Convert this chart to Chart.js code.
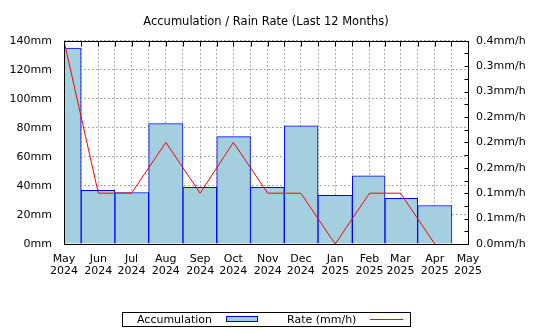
<!DOCTYPE html>
<html><head><meta charset="utf-8">
<script src="https://cdn.jsdelivr.net/npm/chart.js@4/dist/chart.umd.min.js"></script>
<style>
html,body{margin:0;padding:0;background:#fff;}
#wrap{position:relative;width:540px;height:330px;overflow:hidden;}
#c{position:absolute;left:0;top:0;}
#legend{position:absolute;left:122px;top:312px;width:287px;height:13px;border:1px solid #000;font:11px 'DejaVu Sans',sans-serif;color:#000;}
#legend span{position:absolute;white-space:nowrap;line-height:13px;top:0;}
#legend div{position:absolute;box-sizing:content-box;}
</style></head><body>
<div id="wrap"><canvas id="c" width="540" height="330"></canvas><div id="legend"></div></div>
<script>
// ---- data ----
const monthStarts = ['2024-05-01','2024-06-01','2024-07-01','2024-08-01','2024-09-01','2024-10-01','2024-11-01','2024-12-01','2025-01-01','2025-02-01','2025-03-01','2025-04-01','2025-05-01'];
const monthTickLabels = [['May','2024'],['Jun','2024'],['Jul','2024'],['Aug','2024'],['Sep','2024'],['Oct','2024'],['Nov','2024'],['Dec','2024'],['Jan','2025'],['Feb','2025'],['Mar','2025'],['Apr','2025'],['May','2025']];
const accumulationMm = [135, 37, 35.5, 83, 39, 74, 39, 81.5, 33.5, 47, 31.5, 26.5];
const rateMmH = [0.4, 0.1, 0.1, 0.2, 0.1, 0.2, 0.1, 0.1, 0.0, 0.1, 0.1, 0.0];
const mmTickValues = [0, 20, 40, 60, 80, 100, 120, 140];
const rateTickValues = [0, 0.05, 0.1, 0.15, 0.2, 0.25, 0.3, 0.35, 0.4];
const rateTickLabels = ['0.0','0.1','0.1','0.2','0.2','0.2','0.3','0.3','0.4'];
const rateMinorStep = 0.025;
const titleText = 'Accumulation / Rain Rate (Last 12 Months)';
const seriesLabels = ['Accumulation', 'Rate (mm/h)'];

// ---- helpers ----
const t0 = Date.parse(monthStarts[0] + 'T00:00:00Z');
const dayOf = s => (Date.parse(s + 'T00:00:00Z') - t0) / 86400000;
const monthDays = monthStarts.map(dayOf);
const gridDays = [];
monthDays.forEach((d, i) => {
  gridDays.push(d);
  if (i < monthDays.length - 1) gridDays.push((d + monthDays[i + 1]) / 2);
});
const labelByDay = {};
monthDays.forEach((d, i) => { labelByDay[d] = monthTickLabels[i]; });

const BAR_FILL = '#a3cfdf', BAR_EDGE = '#0000ff', LINE_C = '#ff0000', GRID_C = '#a8a8a8';

Chart.defaults.font.family = "'DejaVu Sans', sans-serif";
Chart.defaults.font.size = 11;
Chart.defaults.color = '#000';

const framePlugin = {
  id: 'frame',
  afterDatasetsDraw(chart) {
    const {ctx, chartArea: a, scales} = chart;
    ctx.save();
    ctx.strokeStyle = '#000';
    ctx.lineWidth = 1;
    const L = Math.round(a.left) + 0.5, R = Math.round(a.right) + 0.5;
    const T = Math.round(a.top) + 0.5, B = Math.round(a.bottom) + 0.5;
    ctx.beginPath();
    scales.x.ticks.forEach(t => {
      const px = Math.round(scales.x.getPixelForValue(t.value)) + 0.5;
      ctx.moveTo(px, T); ctx.lineTo(px, T + 5);
    });
    for (let v = 0; v <= 0.4 + 1e-9; v += rateMinorStep) {
      const py = Math.round(scales.y1.getPixelForValue(v)) + 0.5;
      ctx.moveTo(R, py); ctx.lineTo(R - 4, py);
    }
    ctx.stroke();
    ctx.strokeRect(L, T, R - L, B - T);
    ctx.restore();
  }
};

const chart = new Chart(document.getElementById('c'), {
  data: {
    datasets: [
      {
        type: 'line', label: seriesLabels[1], order: 1, yAxisID: 'y1',
        data: rateMmH.map((v, i) => ({x: monthDays[i], y: v})),
        borderColor: LINE_C, borderWidth: 1, pointRadius: 0, tension: 0, fill: false
      },
      {
        type: 'bar', label: seriesLabels[0], order: 2, yAxisID: 'y',
        data: accumulationMm.map((v, i) => ({x: monthDays[i], y: v})),
        backgroundColor: BAR_FILL, borderColor: BAR_EDGE, borderWidth: 1,
        barThickness: 'flex', categoryPercentage: 1, barPercentage: 1
      }
    ]
  },
  options: {
    responsive: false, animation: false,
    layout: {padding: 0},
    plugins: {
      legend: {display: false},
      tooltip: {enabled: false},
      title: {
        display: true, text: titleText, fullSize: false,
        font: {size: 11.5, weight: 'normal'}, color: '#000',
        padding: {top: 15.5, bottom: 11.5}
      }
    },
    scales: {
      x: {
        type: 'linear', position: 'bottom', offset: false,
        min: 0, max: monthDays[monthDays.length - 1],
        afterBuildTicks: s => { s.ticks = gridDays.map(v => ({value: v})); },
        afterFit: s => { s.height = 86; },
        ticks: {
          autoSkip: false, maxRotation: 0, minRotation: 0, padding: 9,
          font: {size: 11, lineHeight: 1.1},
          callback: v => labelByDay[v] !== undefined ? labelByDay[v] : ''
        },
        grid: {color: GRID_C, lineWidth: 1, drawTicks: false, offset: false},
        border: {display: false, dash: [2, 2]}
      },
      y: {
        type: 'linear', position: 'left', min: 0, max: 140,
        afterBuildTicks: s => { s.ticks = mmTickValues.map(v => ({value: v})); },
        afterFit: s => { s.width = 64; },
        ticks: {padding: 12, callback: v => v + 'mm'},
        grid: {color: GRID_C, lineWidth: 1, drawTicks: false},
        border: {display: false, dash: [2, 2]}
      },
      y1: {
        type: 'linear', position: 'right', min: 0, max: 0.4,
        afterBuildTicks: s => { s.ticks = rateTickValues.map(v => ({value: v})); },
        afterFit: s => { s.width = 72; },
        ticks: {padding: 8, callback: (v, i) => rateTickLabels[i] + 'mm/h'},
        grid: {drawOnChartArea: false, drawTicks: false},
        border: {display: false}
      }
    }
  },
  plugins: [framePlugin]
});

// ---- HTML legend built from the datasets ----
(function () {
  const lg = document.getElementById('legend');
  const bar = chart.data.datasets[1], line = chart.data.datasets[0];
  const items = [
    {text: bar.label, tx: 14, sw: `left:103px;top:3px;width:30px;height:4px;background:${bar.backgroundColor};border:1px solid ${bar.borderColor};`},
    {text: line.label, tx: 164, sw: `left:247px;top:6px;width:33px;height:0;border-top:1px solid ${line.borderColor};`}
  ];
  items.forEach(it => {
    const s = document.createElement('span'); s.textContent = it.text; s.style.left = it.tx + 'px'; lg.appendChild(s);
    const d = document.createElement('div'); d.style.cssText = it.sw; lg.appendChild(d);
  });
})();
</script>
</body></html>
